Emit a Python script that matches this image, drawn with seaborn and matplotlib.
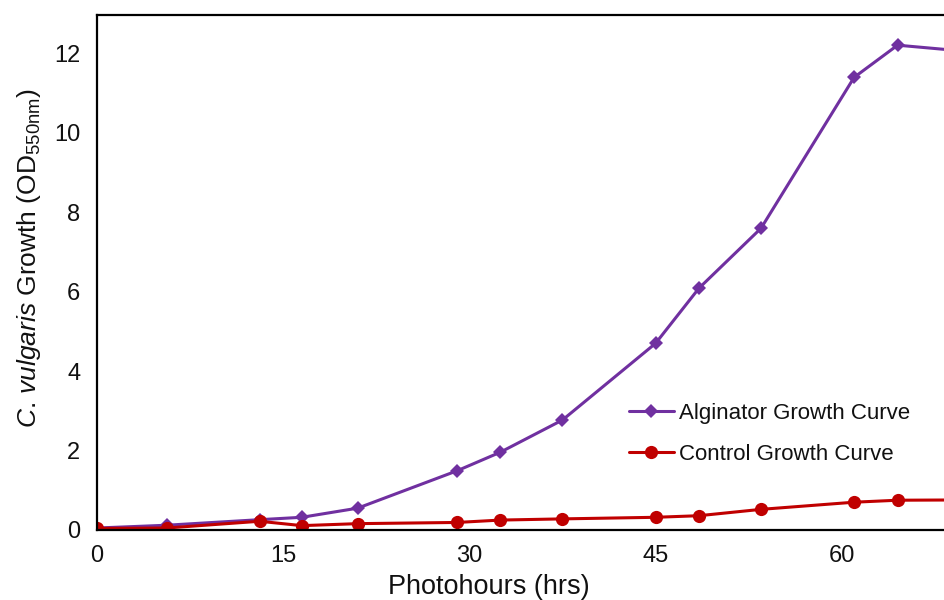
import matplotlib
matplotlib.use("Agg")
import matplotlib.pyplot as plt
import seaborn as sns
import pandas as pd

# Data
hours = [0, 5.6, 13.1, 16.5, 21.0, 29.0, 32.5, 37.5, 45.0, 48.5, 53.5, 61.0, 64.5, 72.0]
alginator = [0.05, 0.12, 0.26, 0.32, 0.55, 1.49, 1.96, 2.77, 4.70, 6.09, 7.60, 11.40, 12.21, 12.0]
control = [0.04, 0.05, 0.22, 0.11, 0.16, 0.19, 0.25, 0.28, 0.32, 0.36, 0.52, 0.70, 0.75, 0.76]
series_names = ["Alginator Growth Curve", "Control Growth Curve"]
x_ticks = [0, 15, 30, 45, 60]
y_ticks = [0, 2, 4, 6, 8, 10, 12]

sns.set_theme(style="white")
plt.rcParams['font.family'] = ['Liberation Sans', 'DejaVu Sans']
plt.rcParams['mathtext.fontset'] = 'custom'
plt.rcParams['mathtext.rm'] = 'Liberation Sans'
plt.rcParams['mathtext.it'] = 'Liberation Sans:italic'

fig = plt.figure(figsize=(9.44, 6.0), dpi=100)
ax = fig.add_axes([97/944, 1 - 530/600, 1 - 97/944 + 0.01, (530 - 15)/600])

df = pd.DataFrame({
    "hours": hours * 2,
    "od": alginator + control,
    "series": [series_names[0]] * len(hours) + [series_names[1]] * len(hours),
})

sns.lineplot(data=df, x="hours", y="od", hue="series", style="series",
             palette={series_names[0]: "#7030A0", series_names[1]: "#C00000"},
             markers={series_names[0]: "D", series_names[1]: "o"},
             dashes=False, markersize=9.5, linewidth=2.2, markeredgewidth=0,
             ax=ax, sort=False)

for line in ax.get_lines():
    if line.get_marker() == "D":
        line.set_markersize(7.5)

ax.set_xlim(0, 69)
ax.set_ylim(0, 12.97)
ax.set_xticks(x_ticks)
ax.set_yticks(y_ticks)
ax.tick_params(axis="both", direction="in", length=6, width=1.3, color="black",
               labelsize=17, labelcolor="#111111")
ax.tick_params(axis="x", pad=11)
ax.tick_params(axis="y", pad=12)

for side in ["left", "bottom", "top"]:
    ax.spines[side].set_color("black")
    ax.spines[side].set_linewidth(1.6)
ax.spines["right"].set_visible(False)

ax.set_xlabel("Photohours (hrs)", fontsize=19.5, color="#111111", labelpad=5)
ax.set_ylabel(r"$\mathit{C.\,vulgaris}$ Growth (OD$_{\rm 550nm}$)", fontsize=19,
              color="#111111", labelpad=8)
ax.xaxis.label.set_x(0.458)
ax.yaxis.label.set_y(0.528)

handles, labels = ax.get_legend_handles_labels()
for h in handles:
    if h.get_marker() == "D":
        h.set_markersize(7.5)
leg = ax.legend(handles, labels, loc="upper left", bbox_to_anchor=(618/944, 1 - 392/600),
                bbox_transform=fig.transFigure, frameon=False, fontsize=16,
                handlelength=2.0, handletextpad=0.25, labelspacing=0.9, borderpad=0)
for t in leg.get_texts():
    t.set_color("#111111")

fig.savefig("out.png", dpi=100)
